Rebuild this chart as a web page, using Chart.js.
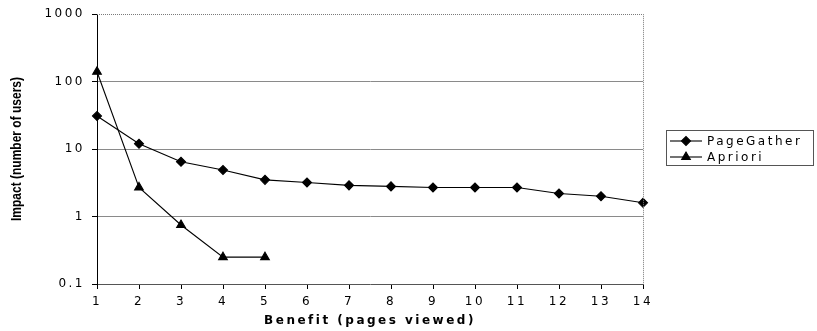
<!DOCTYPE html>
<html>
<head>
<meta charset="utf-8">
<script src="https://cdn.jsdelivr.net/npm/chart.js@4/dist/chart.umd.min.js"></script>
<style>
  html, body { margin: 0; padding: 0; background: #fff; }
  #wrap { position: relative; width: 817px; height: 331px; }
</style>
</head>
<body>
<div id="wrap"><canvas id="c"></canvas></div>
<script>
// Pages viewed (benefit) on the x axis
const categories = ['1', '2', '3', '4', '5', '6', '7', '8', '9', '10', '11', '12', '13', '14'];

// Number of users affected per benefit level
const pageGather = [31, 12, 6.5, 4.9, 3.5, 3.2, 2.9, 2.8, 2.7, 2.7, 2.7, 2.2, 2.0, 1.6];
const apriori = [140, 2.7, 0.75, 0.25, 0.25];

const seriesNames = ['PageGather', 'Apriori'];

// Decade ticks for the logarithmic y axis
const yTickValues = [0.1, 1, 10, 100, 1000];
const yTickLabels = ['0.1', '1', '10', '100', '1000'];

const xTitle = 'Benefit (pages viewed)';
const yTitle = 'Impact (number of users)';

const TEXT_FONT = 'DejaVu Sans';
const SPACING = '2.5px';

// Wide, slightly spaced lettering for the labels drawn by the chart
const spacingPlugin = {
  id: 'spacing',
  beforeUpdate(chart) { chart.ctx.letterSpacing = SPACING; },
  beforeDraw(chart) { chart.ctx.letterSpacing = SPACING; }
};

// Dotted frame, boxed legend and rotated y title
const decorPlugin = {
  id: 'decor',
  afterDraw(chart) {
    const ctx = chart.ctx;
    const a = chart.chartArea;

    ctx.save();
    ctx.letterSpacing = '0px';
    ctx.strokeStyle = '#7a7a7a';
    ctx.lineWidth = 1;
    ctx.setLineDash([1, 1]);
    ctx.beginPath();
    ctx.moveTo(a.left, Math.round(a.top) + 0.5);
    ctx.lineTo(a.right, Math.round(a.top) + 0.5);
    ctx.moveTo(Math.round(a.right) + 0.5, a.top);
    ctx.lineTo(Math.round(a.right) + 0.5, a.bottom);
    ctx.stroke();
    ctx.restore();

    // legend
    ctx.save();
    ctx.setLineDash([]);
    ctx.strokeStyle = '#555';
    ctx.lineWidth = 1;
    ctx.strokeRect(666.5, 130.5, 147, 35);
    const rows = [141, 157];
    chart.data.datasets.forEach((ds, i) => {
      const y = rows[i];
      ctx.strokeStyle = '#000';
      ctx.lineWidth = 1.1;
      ctx.beginPath();
      ctx.moveTo(670, y);
      ctx.lineTo(702, y);
      ctx.stroke();
      ctx.fillStyle = '#000';
      Chart.helpers.drawPoint(ctx, {
        pointStyle: ds.pointStyle, radius: ds.pointRadius, rotation: 0, borderWidth: 1
      }, 686, y);
      ctx.letterSpacing = SPACING;
      ctx.font = '12px "' + TEXT_FONT + '"';
      ctx.textAlign = 'left';
      ctx.textBaseline = 'middle';
      ctx.fillStyle = '#000';
      ctx.fillText(ds.label, 707, y + 0.5);
    });
    ctx.restore();

    // y axis title, condensed to its column
    ctx.save();
    ctx.letterSpacing = '0px';
    ctx.font = 'bold 15px "Liberation Sans", Arial, sans-serif';
    const w = ctx.measureText(yTitle).width;
    ctx.translate(17, 149);
    ctx.rotate(-Math.PI / 2);
    ctx.scale(144 / w, 1);
    ctx.textAlign = 'center';
    ctx.textBaseline = 'middle';
    ctx.fillStyle = '#000';
    ctx.fillText(yTitle, 0, 0);
    ctx.restore();
  }
};

new Chart(document.getElementById('c'), {
  type: 'line',
  data: {
    labels: categories,
    datasets: [
      {
        label: seriesNames[0],
        data: pageGather,
        borderColor: '#000',
        backgroundColor: '#000',
        borderWidth: 1.1,
        pointStyle: 'rectRot',
        pointRadius: 4.5,
        pointBackgroundColor: '#000',
        pointBorderColor: '#000',
        tension: 0,
        clip: false
      },
      {
        label: seriesNames[1],
        data: apriori,
        borderColor: '#000',
        backgroundColor: '#000',
        borderWidth: 1.1,
        pointStyle: 'triangle',
        pointRadius: 5,
        pointBackgroundColor: '#000',
        pointBorderColor: '#000',
        tension: 0,
        clip: false
      }
    ]
  },
  options: {
    responsive: true,
    maintainAspectRatio: false,
    animation: false,
    layout: { padding: { top: 12, right: 174, bottom: 0, left: 0 } },
    plugins: {
      legend: { display: false },
      tooltip: { enabled: false }
    },
    scales: {
      x: {
        type: 'category',
        offset: false,
        grid: { drawOnChartArea: false, drawTicks: true, tickLength: 5, tickColor: '#000' },
        border: { color: '#555', dash: [2, 1] },
        ticks: {
          color: '#000',
          font: { family: TEXT_FONT, size: 12 },
          padding: 6,
          maxRotation: 0,
          autoSkip: false
        },
        title: {
          display: true,
          text: xTitle,
          color: '#000',
          font: { family: TEXT_FONT, size: 12, weight: 'bold' },
          padding: { top: 0, bottom: 3 }
        },
        afterFit(s) { s.height = 47; }
      },
      y: {
        type: 'logarithmic',
        min: 0.1,
        max: 1000,
        afterBuildTicks(s) { s.ticks = yTickValues.map(v => ({ value: v })); },
        ticks: {
          color: '#000',
          font: { family: TEXT_FONT, size: 12 },
          padding: 7,
          callback: (v, i) => yTickLabels[i]
        },
        grid: {
          color: c => (c.tick && (c.tick.value === 0.1 || c.tick.value === 1000)) ? 'rgba(0,0,0,0)' : '#8a8a8a',
          tickColor: '#000',
          tickLength: 5
        },
        border: { color: '#000' },
        afterFit(s) { s.width = 97; }
      }
    }
  },
  plugins: [spacingPlugin, decorPlugin]
});
</script>
</body>
</html>
